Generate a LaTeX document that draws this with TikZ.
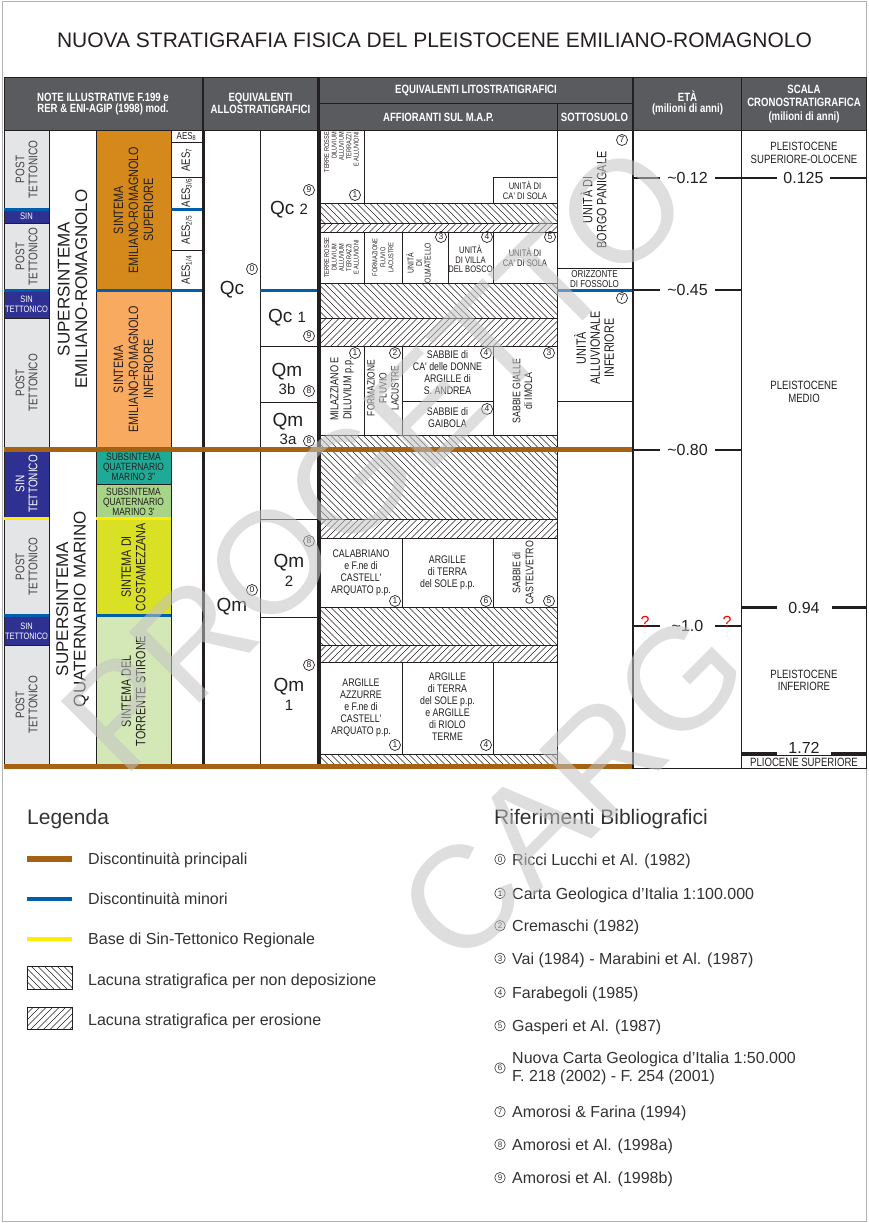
\documentclass[tikz,border=0pt]{standalone}
\usepackage{fontspec}
\setmainfont{Liberation Sans}
\newfontfamily\narrowfont[FakeStretch=0.8]{Liberation Sans}
\usetikzlibrary{positioning}
\definecolor{ink}{RGB}{35,31,32}
\definecolor{headgrey}{RGB}{90,91,94}
\definecolor{tectgrey}{RGB}{228,229,230}
\definecolor{sinblue}{RGB}{46,49,146}
\definecolor{discbrown}{RGB}{164,98,18}
\definecolor{discblue}{RGB}{0,94,170}
\definecolor{discyellow}{RGB}{255,236,0}
\definecolor{ersup}{RGB}{212,137,26}
\definecolor{erinf}{RGB}{248,170,96}
\definecolor{qmteal}{RGB}{30,170,150}
\definecolor{qmgreen}{RGB}{168,212,136}
\definecolor{costa}{RGB}{218,224,36}
\definecolor{stirone}{RGB}{212,231,182}
\definecolor{legtext}{RGB}{50,50,50}
\definecolor{markgrey}{RGB}{195,195,195}
\newcommand\setfs[2]{\fontsize{#1}{#2}\selectfont}

\begin{document}
\begin{tikzpicture}[x=1pt,y=-1pt,
  cell/.style={draw=ink,line width=0.8pt},
  colsep/.style={draw=ink,line width=2.6pt},
  postcell/.style={fill=tectgrey,draw=ink,line width=0.5pt},
  sincell/.style={fill=sinblue,draw=ink,line width=0.5pt},
  hd/.style={text=white,font=\narrowfont\bfseries\setfs{12}{11.8},align=center,inner sep=0},
  txt/.style={text=ink,font=\narrowfont\setfs{11}{12},align=center,inner sep=0},
  rot/.style={rotate=90},
  cnum/.style={circle,draw=ink,line width=0.7pt,minimum size=11pt,inner sep=0,font=\setfs{8.5}{8.5},text=ink},
  qlab/.style={text=ink,font=\setfs{19}{18.5},align=center,inner sep=0},
  age/.style={text=ink,font=\setfs{16}{16},inner sep=0},
  agetick/.style={draw=ink,line width=2.8pt},
  brownline/.style={draw=discbrown,line width=5pt},
  blueline/.style={draw=discblue,line width=3pt},
  yellowline/.style={draw=discyellow,line width=3pt},
  nondep/.style={draw=ink,line width=0.7pt,path picture={
    \foreach \k in {-100,-93.5,...,250}
      \draw[ink,line width=0.5pt] ([xshift=\k pt]path picture bounding box.north west) -- ++(100,100);}},
  erosion/.style={draw=ink,line width=0.7pt,path picture={
    \foreach \k in {0,6.5,...,350}
      \draw[ink,line width=0.5pt] ([xshift=\k pt]path picture bounding box.north west) -- ++(-100,100);}},
  leg/.style={text=legtext,font=\setfs{16}{18},anchor=base west,inner sep=0,align=left},
  bibnum/.style={cnum,minimum size=10.5pt,line width=0.6pt,font=\setfs{8}{8},text=legtext,draw=legtext},
  watermark/.style={text=markgrey,opacity=0.55,font=\setfs{145}{145},inner sep=0}]

  \useasboundingbox (0,0) rectangle (869,1223);
  \draw[gray!60,line width=1pt] (2.5,1.5) rectangle (866.5,1221.5);
  \node[font=\setfs{21}{21},text=ink] (title) at (434.5,40) {NUOVA STRATIGRAFIA FISICA DEL PLEISTOCENE EMILIANO-ROMAGNOLO};

  % header band
  \fill[headgrey] (4,77) rectangle (866,130);
  \draw[ink,line width=1pt] (4,130) -- (866,130);
  \draw[ink,line width=1pt] (320,103) -- (632,103) (557,103) -- (557,130);
  \node[hd] (hnote) at (103,104) {NOTE ILLUSTRATIVE F.199 e\\RER \& ENI-AGIP (1998) mod.};
  \node[hd] (hallo) at (260.5,103.5) {EQUIVALENTI\\ALLOSTRATIGRAFICI};
  \node[hd] (hlito) at (476,90.5) {EQUIVALENTI LITOSTRATIGRAFICI};
  \node[hd] (haff) at (438.5,117) {AFFIORANTI SUL M.A.P.};
  \node[hd] (hsott) at (594.5,117) {SOTTOSUOLO};
  \node[hd] (heta) at (687.5,103) {ETÀ\\(milioni di anni)};
  \node[hd,font=\narrowfont\bfseries\setfs{12}{13.3}] (hscala) at (804,104) {SCALA\\CRONOSTRATIGRAFICA\\(milioni di anni)};

  % tectonic column
  \draw[postcell] (4,130) rectangle (49,209);
  \draw[sincell] (4,209) rectangle (49,223);
  \draw[postcell] (4,223) rectangle (49,290);
  \draw[sincell] (4,290) rectangle (49,318);
  \draw[postcell] (4,318) rectangle (49,449);
  \draw[sincell] (4,449) rectangle (49,518);
  \draw[postcell] (4,518) rectangle (49,615);
  \draw[sincell] (4,615) rectangle (49,645);
  \draw[postcell] (4,645) rectangle (49,766);
  \foreach \n/\y in {pt1/169.5,pt2/256.5,pt3/383,pt4/566.5,pt5/705}
    \node[txt,rot,text=ink!85,font=\narrowfont\setfs{12.5}{13}] (\n) at (26.5,\y) {POST\\TETTONICO};
  \node[txt,text=white,font=\narrowfont\setfs{9.5}{9.5}] (sn1) at (26.5,216.5) {SIN};
  \node[txt,text=white,font=\narrowfont\setfs{9.3}{10}] (sn2) at (26.5,304.5) {SIN\\TETTONICO};
  \node[txt,rot,text=white,font=\narrowfont\setfs{12.5}{13}] (sn3) at (26.5,484) {SIN\\TETTONICO};
  \node[txt,text=white,font=\narrowfont\setfs{9.3}{10}] (sn4) at (26.5,631) {SIN\\TETTONICO};

  % supersintemi
  \draw[cell] (49,130) rectangle (96,449) (49,449) rectangle (96,766);
  \node[txt,rot,font=\setfs{17}{17.5}] (ssemr) at (72.5,289) {SUPERSINTEMA\\EMILIANO-ROMAGNOLO};
  \node[txt,rot,font=\setfs{17}{17.5}] (ssqm) at (72.5,609) {SUPERSINTEMA\\QUATERNARIO MARINO};

  % sintemi
  \draw[cell,fill=ersup] (96,130) rectangle (171,290);
  \draw[cell,fill=erinf] (96,290) rectangle (171,449);
  \draw[cell,fill=qmteal] (96,449) rectangle (171,484.5);
  \draw[cell,fill=qmgreen] (96,484.5) rectangle (171,518);
  \draw[cell,fill=costa] (96,518) rectangle (171,615);
  \draw[cell,fill=stirone] (96,615) rectangle (171,766);
  \node[txt,rot,font=\narrowfont\setfs{13.5}{15}] (ssup) at (133.5,210) {SINTEMA\\EMILIANO-ROMAGNOLO\\SUPERIORE};
  \node[txt,rot,font=\narrowfont\setfs{13.5}{15}] (sinf) at (133.5,369) {SINTEMA\\EMILIANO-ROMAGNOLO\\INFERIORE};
  \node[txt,font=\narrowfont\setfs{10.5}{10}] (sqm2) at (133.5,467) {SUBSINTEMA\\QUATERNARIO\\MARINO 3'\kern0pt'};
  \node[txt,font=\narrowfont\setfs{10.5}{10}] (sqm1) at (133.5,501.5) {SUBSINTEMA\\QUATERNARIO\\MARINO 3'};
  \node[txt,rot,font=\narrowfont\setfs{13.5}{14.5}] (scosta) at (133.5,567) {SINTEMA DI\\COSTAMEZZANA};
  \node[txt,rot,font=\narrowfont\setfs{13.5}{14.5}] (sstir) at (133.5,691) {SINTEMA DEL\\TORRENTE STIRONE};

  % AES units
  \draw[cell] (171,130) rectangle (202,142.5) (171,142.5) rectangle (202,177) (171,177) rectangle (202,209)
    (171,209) rectangle (202,250) (171,250) rectangle (202,290) (171,290) rectangle (202,449) (171,449) rectangle (202,766);
  \node[txt,font=\narrowfont\setfs{10}{10}] (aes8) at (186.5,136.5) {AES\textsubscript{8}};
  \node[txt,rot,font=\narrowfont\setfs{12}{12}] (aes7) at (186.5,160) {AES\textsubscript{7}};
  \node[txt,rot,font=\narrowfont\setfs{12}{12}] (aes36) at (186.5,193) {AES\textsubscript{3/6}};
  \node[txt,rot,font=\narrowfont\setfs{12}{12}] (aes25) at (186.5,230) {AES\textsubscript{2/5}};
  \node[txt,rot,font=\narrowfont\setfs{12}{12}] (aes14) at (186.5,270) {AES\textsubscript{1/4}};

  % allostratigraphic equivalents
  \draw[cell] (204,130) rectangle (260,449) (204,449) rectangle (260,766);
  \draw[cell] (260,130) rectangle (317,290) (260,290) rectangle (317,346) (260,346) rectangle (317,402)
    (260,402) rectangle (317,449) (260,449) rectangle (317,519) (260,519) rectangle (317,617) (260,617) rectangle (317,766);
  \node[qlab] (qc) at (232,290) {Qc};
  \node[qlab] (qm) at (232,607) {Qm};
  \node[qlab] (qc2) at (289,210) {Qc {\setfs{15}{15}2}};
  \node[qlab] (qc1) at (287,318) {Qc {\setfs{15}{15}1}};
  \node[qlab] (qm3b) at (287,379) {Qm\\{\setfs{15}{15}3b}};
  \node[qlab] (qm3a) at (288,429) {Qm\\{\setfs{15}{15}3a}};
  \node[qlab] (qm2) at (289,570.5) {Qm\\{\setfs{15}{15}2}};
  \node[qlab] (qm1) at (289,694.5) {Qm\\{\setfs{15}{15}1}};

  % lithostratigraphic equivalents, outcrop
  \draw[cell] (320,130) rectangle (364,203) (364,130) rectangle (557,203) (493,177) rectangle (557,203);
  \draw[nondep] (320,203) rectangle (557,223);
  \draw[erosion] (320,223) rectangle (557,232);
  \foreach \xa/\xb in {320/364,364/402,402/448,448/493,493/557}
    \draw[cell] (\xa,232) rectangle (\xb,283);
  \draw[nondep] (320,283) rectangle (557,318);
  \draw[erosion] (320,318) rectangle (557,346);
  \draw[cell] (320,346) rectangle (364,435) (364,346) rectangle (402,435) (402,346) rectangle (493,401)
    (402,401) rectangle (493,435) (493,346) rectangle (557,435);
  \draw[nondep] (320,435) rectangle (557,449);
  \draw[nondep] (320,449) rectangle (557,519);
  \draw[erosion] (320,519) rectangle (557,538);
  \foreach \xa/\xb in {320/402,402/493,493/557}
    \draw[cell] (\xa,538) rectangle (\xb,607);
  \draw[nondep] (320,607) rectangle (557,645);
  \draw[erosion] (320,645) rectangle (557,662);
  \foreach \xa/\xb in {320/402,402/493,493/557}
    \draw[cell] (\xa,662) rectangle (\xb,754);
  \draw[nondep] (320,754) rectangle (557,766);

  \node[txt,rot,anchor=east,align=right,font=\narrowfont\setfs{7}{7.4}] (terre1) at (341.5,132) {TERRE ROSSE\\DILUVIUM\\ALLUVIUM\\TERRAZZI\\E ALLUVIONI};
  \node[txt,font=\narrowfont\setfs{9.5}{9.5}] (sola1) at (525,190.5) {UNITÀ DI\\CA' DI SOLA};
  \node[txt,rot,font=\narrowfont\setfs{7}{7.4}] (terre2) at (341.5,257.5) {TERRE ROSSE\\DILUVIUM\\ALLUVIUM\\TERRAZZI\\E ALLUVIONI};
  \node[txt,rot,font=\narrowfont\setfs{7}{8}] (fluv1) at (383,257.5) {FORMAZIONE\\FLUVIO\\LACUSTRE};
  \node[txt,rot,font=\narrowfont\setfs{8.5}{8.5}] (olma) at (418.5,263) {UNITÀ\\DI\\OLMATELLO};
  \node[txt,font=\narrowfont\setfs{9.5}{9.5}] (villa) at (470.5,259) {UNITÀ\\DI VILLA\\DEL BOSCO};
  \node[txt,font=\narrowfont\setfs{9.5}{9.5}] (sola2) at (525,257.5) {UNITÀ DI\\CA' DI SOLA};
  \node[txt,rot,font=\narrowfont\setfs{11.5}{13}] (milaz) at (342,389) {MILAZZIANO E\\DILUVIUM p.p.};
  \node[txt,rot,font=\narrowfont\setfs{10.5}{12}] (fluv2) at (383,388) {FORMAZIONE\\FLUVIO\\LACUSTRE};
  \node[txt] (donne) at (447.5,372.5) {SABBIE di\\CA' delle DONNE\\ARGILLE di\\S. ANDREA};
  \node[txt] (gaib) at (447.5,418) {SABBIE di\\GAIBOLA};
  \node[txt,rot,font=\narrowfont\setfs{11}{11.7}] (imola) at (522.5,391) {SABBIE GIALLE\\di IMOLA};
  \node[txt] (calab) at (361,572.5) {CALABRIANO\\e F.ne di\\CASTELL'\\ARQUATO p.p.};
  \node[txt] (sole1) at (447.5,572.5) {ARGILLE\\di TERRA\\del SOLE p.p.};
  \node[txt,rot,font=\narrowfont\setfs{11}{13}] (castv) at (523,573) {SABBIE di\\CASTELVETRO};
  \node[txt] (azzur) at (361,707.5) {ARGILLE\\AZZURRE\\e F.ne di\\CASTELL'\\ARQUATO p.p.};
  \node[txt] (riolo) at (447.5,707) {ARGILLE\\di TERRA\\del SOLE p.p.\\e ARGILLE\\di RIOLO\\TERME};

  % subsurface
  \draw[cell] (557,130) rectangle (632,268) (557,268) rectangle (632,290) (557,290) rectangle (632,401)
    (557,401) rectangle (632,449) (557,449) rectangle (632,766);
  \node[txt,rot,font=\narrowfont\setfs{13.5}{14}] (borgo) at (593.5,200) {UNITÀ DI\\BORGO PANIGALE};
  \node[txt,font=\narrowfont\setfs{10}{9.5}] (fossolo) at (594.5,279) {ORIZZONTE\\DI FOSSOLO};
  \node[txt,rot,font=\narrowfont\setfs{13.5}{14}] (allinf) at (594,348) {UNITÀ\\ALLUVIONALE\\INFERIORE};

  % references in the table
  \foreach \n/\x/\y/\d in {r1/252/269/0,r2/252/590/0,r3/309/190/9,r4/309/336/9,r5/309/391/8,r6/309/441/8,
      r7/309/541/8,r8/309/665/8,r9/355/195/1,r10/441/237/3,r11/487/237/4,r12/550/237/5,r13/355/353/1,
      r14/395/353/2,r15/486/353/4,r16/549/353/3,r17/487/409/4,r18/395/601/1,r19/486/601/6,r20/549/601/5,
      r21/395/745/1,r22/486/745/4,r23/622/140/7,r24/622/298/7}
    \node[cnum] (\n) at (\x,\y) {\d};

  % ages and chronostratigraphy
  \draw[cell] (633,130) rectangle (741.5,768) (741.5,130) rectangle (866,768);
  \draw[ink,line width=0.6pt] (741.5,755) -- (866,755);
  \node[age] (a012) at (687.5,178) {\textasciitilde0.12};
  \node[age] (a045) at (687.5,290) {\textasciitilde0.45};
  \node[age] (a080) at (687.5,450) {\textasciitilde0.80};
  \node[age] (a100) at (687.5,626) {\textasciitilde1.0};
  \foreach \y in {178,290,450,626}
    \draw[agetick] (633,\y) -- (660,\y) (715,\y) -- (741.5,\y);
  \node[age,text=red] (qa) at (645,622) {?};
  \node[age,text=red] (qb) at (727,622) {?};
  \node[txt,font=\narrowfont\setfs{12}{12.6}] (psup) at (804,153) {PLEISTOCENE\\SUPERIORE-OLOCENE};
  \node[txt,font=\narrowfont\setfs{12}{12.6}] (pmed) at (804,392) {PLEISTOCENE\\MEDIO};
  \node[txt,font=\narrowfont\setfs{12}{12.6}] (pinf) at (804,680.5) {PLEISTOCENE\\INFERIORE};
  \node[txt,font=\narrowfont\setfs{12}{12}] (plio) at (804,762) {PLIOCENE SUPERIORE};
  \node[age] (s0125) at (803.5,178) {0.125};
  \node[age] (s094) at (804,607.5) {0.94};
  \node[age] (s172) at (804,748) {1.72};
  \draw[agetick] (741.5,178) -- (777,178) (830,178) -- (866,178);
  \draw[agetick] (741.5,607.5) -- (777,607.5) (832,607.5) -- (866,607.5);
  \draw[agetick] (741.5,753.5) -- (777,753.5) (831,753.5) -- (866,753.5);

  % column separators and table frame
  \draw[cell] (4,77) rectangle (866,768);
  \foreach \x in {203,318.5,633}
    \draw[colsep] (\x,77) -- (\x,768);
  \draw[ink,line width=1pt] (741.5,77) -- (741.5,768);

  % discontinuities
  \draw[blueline] (4,209) -- (49,209) (171,209) -- (201.7,209);
  \draw[blueline] (4,290) -- (49,290) (96,290) -- (201.7,290) (260,290) -- (317.2,290) (557,290) -- (631.7,290);
  \draw[yellowline] (4,518.5) -- (49,518.5) (96,518.5) -- (171,518.5);
  \draw[blueline] (4,615.5) -- (49,615.5) (96,615.5) -- (171,615.5);
  \draw[brownline] (4,449.5) -- (632,449.5);
  \draw[brownline] (4,766.5) -- (632,766.5);

  % legend
  \node[leg,font=\setfs{21}{21}] (legtitle) at (27,824) {Legenda};
  \draw[draw=discbrown,line width=5.5pt] (27,859) -- (72,859);
  \draw[draw=discblue,line width=3.5pt] (27,899) -- (72,899);
  \draw[draw=discyellow,line width=3.5pt] (27,939) -- (72,939);
  \draw[nondep] (27,966) rectangle (72,989);
  \draw[erosion] (27,1007) rectangle (72,1029);
  \node[leg] (l1) at (88,864.8) {Discontinuità principali};
  \node[leg] (l2) at (88,904.8) {Discontinuità minori};
  \node[leg] (l3) at (88,944.8) {Base di Sin-Tettonico Regionale};
  \node[leg] (l4) at (88,985.8) {Lacuna stratigrafica per non deposizione};
  \node[leg] (l5) at (88,1025.8) {Lacuna stratigrafica per erosione};

  % bibliography
  \node[leg,font=\setfs{21}{21}] (bibtitle) at (494,824) {Riferimenti Bibliografici};
  \foreach \d/\y/\t in {0/859.3/Ricci Lucchi et Al. (1982),1/893.3/Carta Geologica d'Italia 1:100.000,
      2/925.7/Cremaschi (1982),3/958.3/Vai (1984) - Marabini et Al. (1987),4/992.3/Farabegoli (1985),
      5/1025.7/Gasperi et Al. (1987),7/1111.7/Amorosi \& Farina (1994),8/1144.3/Amorosi et Al. (1998a),
      9/1177.7/Amorosi et Al. (1998b)}{
    \node[bibnum] (b\d) at (500,\y) {\d};
    \node[leg] (bt\d) at (512,\y+5.8) {\t};
  }
  \node[bibnum] (b6) at (500,1068) {6};
  \node[leg,anchor=west] (bt6) at (512,1068) {Nuova Carta Geologica d'Italia 1:50.000\\F. 218 (2002) - F. 254 (2001)};

  % watermark
  \node[watermark,rotate=45] (wmprog) at (375,458) {PROGETTO};
  \node[watermark,rotate=45] (wmcarg) at (572,788) {CARG};
\end{tikzpicture}
\end{document}
